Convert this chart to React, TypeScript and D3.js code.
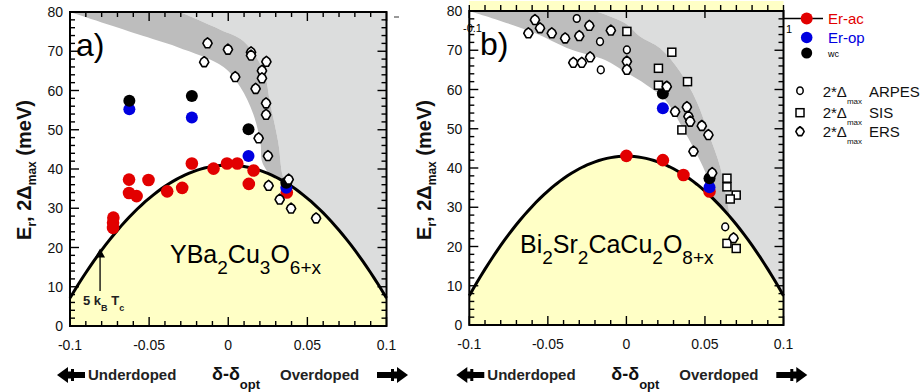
import React from 'react';
import * as d3 from 'd3';

type Pt = [number, number];

const xTickValues = [-0.1, -0.05, 0, 0.05, 0.1];
const xTickLabels = ['-0.1', '-0.05', '0', '0.05', '0.1'];
const yTickValues = [0, 10, 20, 30, 40, 50, 60, 70, 80];

const domeCurvature = 82.6;
const ybcoDomePeak = 41;
const biDomePeak = 43;

// ---- YBa2Cu3O6+x (panel a) ----
const ybcoErAc: Pt[] = [
  [-0.0627, 37.3], [-0.0504, 37.2], [-0.0627, 33.9], [-0.0579, 33.1], [-0.0386, 34.3],
  [-0.0291, 35.2], [-0.023, 41.4], [-0.0093, 40.1], [-0.0008, 41.4], [0.0057, 41.4],
  [0.016, 39.6], [0.013, 36.2], [0.037, 34.0], [-0.0726, 27.6], [-0.0728, 26.3], [-0.0728, 25.0],
];
const ybcoErOp: Pt[] = [[-0.0625, 55.2], [-0.023, 53.1], [0.0128, 43.3], [0.0367, 35.2]];
const ybcoWc: Pt[] = [[-0.0625, 57.4], [-0.023, 58.6], [0.0128, 50.1], [0.0367, 36.5]];
const ybcoErs: Pt[] = [
  [-0.0131, 72.0], [-0.0002, 70.4], [0.0144, 69.7], [0.0144, 68.9], [-0.0152, 67.2],
  [0.0241, 67.3], [0.0213, 65.0], [0.0213, 63.1], [0.0044, 63.4], [0.0173, 60.4],
  [0.0239, 56.7], [0.0239, 53.8], [0.0192, 47.8], [0.0251, 43.3], [0.0255, 35.7],
  [0.0382, 37.3], [0.0325, 32.2], [0.0397, 29.9], [0.0555, 27.4],
];
const ybcoBandLower: Pt[] = [
  [-0.1, 80], [-0.0576, 74.4], [-0.0323, 71.1], [-0.003, 66], [0.0076, 60.9],
  [0.0158, 54], [0.0203, 46.8], [0.0215, 41.7], [0.028, 37.5],
];
const ybcoBandUpper: Pt[] = [
  [-0.0304, 80], [-0.005, 75.5], [0.0095, 72.6], [0.0222, 65], [0.0266, 56.5],
  [0.0316, 46.8], [0.0342, 38.6], [0.037, 35.5],
];
const ybcoTriangle: Pt = [-0.081, 18.2];

// ---- Bi2Sr2CaCu2O8+x (panel b) ----
const biErAc: Pt[] = [[0.0, 43.1], [0.0232, 42.0], [0.0363, 38.2], [0.0529, 34.0]];
const biErOp: Pt[] = [[0.0232, 55.2], [0.0529, 35.1]];
const biWc: Pt[] = [[0.0232, 59.0], [0.0529, 37.4]];
const biArpes: Pt[] = [[-0.0316, 78.1], [-0.0168, 72.2], [0.0003, 70.1], [-0.0163, 65.0], [0.0629, 25.0]];
const biSis: Pt[] = [
  [0.0003, 74.8], [0.0204, 65.4], [0.0289, 69.5], [0.0204, 61.1], [0.0389, 62.0],
  [0.0353, 49.7], [0.064, 37.4], [0.064, 35.2], [0.0699, 33.1], [0.0661, 32.1],
  [0.064, 20.8], [0.0699, 19.5],
];
const biErs: Pt[] = [
  [-0.0582, 77.7], [-0.0624, 74.3], [-0.055, 75.6], [-0.0475, 74.3], [-0.039, 73.0],
  [-0.030, 73.6], [-0.0236, 76.2], [-0.0099, 75.0], [0.0003, 67.1], [0.0003, 65.0],
  [-0.0338, 66.8], [-0.0284, 66.8], [-0.0231, 68.2], [0.0257, 60.7], [0.031, 54.3],
  [0.0385, 55.5], [0.0395, 53.1], [0.0406, 51.8], [0.048, 50.7], [0.0522, 48.4],
  [0.0427, 44.2], [0.0546, 38.7], [0.0682, 22.1],
];
const biBandLower: Pt[] = [
  [-0.1, 80], [-0.0603, 74.7], [-0.0348, 70.1], [-0.0136, 67.5], [-0.0008, 64.5],
  [0.013, 61.1], [0.0247, 57.3], [0.0374, 49], [0.0457, 42.8], [0.0512, 37.8], [0.0525, 33],
];
const biBandUpper: Pt[] = [
  [-0.02, 80], [-0.0008, 76.9], [0.0087, 73.5], [0.0215, 70.5], [0.0342, 64.5],
  [0.0448, 56.9], [0.0522, 48.9], [0.0597, 40.3], [0.064, 31.8], [0.0665, 26.5],
];

const legendItems = ['Er-ac', 'Er-op', 'wc'];
const legendGapItems = ['ARPES', 'SIS', 'ERS'];

const FONT = 'Arial, "Liberation Sans", Helvetica, sans-serif';
const YELLOW = '#ffffc6';
const LIGHT = '#dcdddd';
const DARK = '#bdbdbd';
const RED = '#e20000';
const BLUE = '#0000e0';

function ersPath(cx: number, cy: number, s = 1) {
  return `M${cx},${cy - 5.5 * s} L${cx + 3.2 * s},${cy - 3 * s} L${cx + 4.6 * s},${cy} L${cx + 2 * s},${cy + 4.4 * s} L${cx - 2 * s},${cy + 4.4 * s} L${cx - 4.6 * s},${cy} L${cx - 3.2 * s},${cy - 3 * s} Z`;
}

function arrowPts(tip: number, tail: number, yc: number) {
  const dir = tail > tip ? 1 : -1;
  const h = tip + dir * 11;
  const b = tip + dir * 14;
  return [
    [tip, yc], [h, yc - 8], [h, yc - 3.5], [b, yc - 3.5], [b, yc - 6], [b + dir * 3, yc - 6],
    [b + dir * 3, yc - 3], [tail, yc - 3], [tail, yc + 3], [b + dir * 3, yc + 3], [b + dir * 3, yc + 6],
    [b, yc + 6], [b, yc + 3.5], [h, yc + 3.5], [h, yc + 8],
  ].map((p) => p.join(',')).join(' ');
}

type PanelProps = {
  id: string;
  x0: number; x1: number; yTop: number; yBot: number;
  peak: number;
  lower: Pt[]; upper: Pt[];
  ac: Pt[]; op: Pt[]; wc: Pt[]; arpes: Pt[]; sis: Pt[]; ers: Pt[];
  labelX: number;
  topOutward?: boolean;
};

function Panel(p: PanelProps) {
  const x = d3.scaleLinear().domain([-0.1, 0.1]).range([p.x0, p.x1]);
  const y = d3.scaleLinear().domain([0, 80]).range([p.yBot, p.yTop]);
  const domeXs = d3.range(-0.1, 0.10001, 0.0025);
  const dome: Pt[] = domeXs.map((v) => [v, p.peak * (1 - domeCurvature * v * v)]);
  const line = d3.line<Pt>().x((d) => x(d[0])).y((d) => y(d[1]));
  const smooth = d3.line<Pt>().x((d) => x(d[0])).y((d) => y(d[1])).curve(d3.curveCatmullRom.alpha(0.5));
  const area = d3.area<Pt>().x((d) => x(d[0])).y0(y(0)).y1((d) => y(d[1]));
  const upperPath = smooth(p.upper) || '';
  const lowerPath = smooth(p.lower) || '';
  const upperRevPath = smooth([...p.upper].reverse()) || '';
  const lightD = `${upperPath} L${x(0.1)},${y(0)} L${x(0.1)},${y(80)} Z`;
  const bandD = `${lowerPath} L${upperRevPath.slice(1)} Z`;
  const minorX = d3.range(-0.1, 0.10001, 0.01);
  const minorY = d3.range(0, 80.001, 2);
  const isMajX = (v: number) => Math.abs(Math.round(v / 0.05) * 0.05 - v) < 1e-6;
  const isMajY = (v: number) => Math.round(v) % 10 === 0;
  const yb = y(0), yt = y(80), xl = x(-0.1), xr = x(0.1);
  return (
    <g fontFamily={FONT}>
      <defs>
        <clipPath id={p.id}>
          <rect x={xl} y={yt} width={xr - xl} height={yb - yt} />
        </clipPath>
      </defs>
      <g clipPath={`url(#${p.id})`}>
        <rect x={xl} y={yt} width={xr - xl} height={yb - yt} fill="#fff" />
        <path d={lightD} fill={LIGHT} />
        <path d={bandD} fill={DARK} />
        <path d={area(dome) || ''} fill={YELLOW} />
      </g>
      <path d={line(dome) || ''} fill="none" stroke="#000" strokeWidth={3} />
      {minorX.map((v, i) => {
        const L = isMajX(v) ? 9 : 5;
        return (
          <g key={'tx' + i} stroke="#000" strokeWidth={1.4}>
            <line x1={x(v)} x2={x(v)} y1={yb} y2={yb - L} />
            {p.topOutward ? (
              <line x1={x(v)} x2={x(v)} y1={yt - 6} y2={yt + (isMajX(v) ? 7 : 0)} />
            ) : (
              <line x1={x(v)} x2={x(v)} y1={yt} y2={yt + L} />
            )}
          </g>
        );
      })}
      {minorY.map((v, i) => {
        const L = isMajY(v) ? 9 : 5;
        return (
          <g key={'ty' + i} stroke="#000" strokeWidth={1.4}>
            <line x1={xl} x2={xl + L} y1={y(v)} y2={y(v)} />
            <line x1={xr} x2={xr - L} y1={y(v)} y2={y(v)} />
          </g>
        );
      })}
      <rect x={xl} y={yt} width={xr - xl} height={yb - yt} fill="none" stroke="#000" strokeWidth={2} />
      {xTickValues.map((v, i) => (
        <text key={'xl' + i} x={x(v)} y={yb + 24} textAnchor="middle" fontSize={14} fill="#111">
          {xTickLabels[i]}
        </text>
      ))}
      {yTickValues.map((v) => (
        <text key={'yl' + v} x={xl - 7} y={y(v) + 5} textAnchor="end" fontSize={14} fill="#111">
          {v}
        </text>
      ))}
      {p.ac.map((d, i) => <circle key={'ac' + i} cx={x(d[0])} cy={y(d[1])} r={6.3} fill={RED} />)}
      {p.op.map((d, i) => <circle key={'op' + i} cx={x(d[0])} cy={y(d[1])} r={6} fill={BLUE} />)}
      {p.wc.map((d, i) => <circle key={'wc' + i} cx={x(d[0])} cy={y(d[1])} r={6} fill="#000" />)}
      {p.sis.map((d, i) => (
        <rect key={'sis' + i} x={x(d[0]) - 4} y={y(d[1]) - 4} width={8} height={8} fill="#fff" stroke="#000" strokeWidth={1.5} />
      ))}
      {p.arpes.map((d, i) => (
        <ellipse key={'ar' + i} cx={x(d[0])} cy={y(d[1])} rx={3.4} ry={3.8} fill="#fff" stroke="#000" strokeWidth={1.5} />
      ))}
      {p.ers.map((d, i) => (
        <path key={'ers' + i} d={ersPath(x(d[0]), y(d[1]))} fill="#fff" stroke="#000" strokeWidth={1.6} strokeLinejoin="round" />
      ))}
      <text transform={`translate(${p.labelX},170) rotate(-90)`} textAnchor="middle" fontSize={20} fontWeight="bold" fill="#111">
        E<tspan dy={5} fontSize={12}>r</tspan>
        <tspan dy={-5}>, 2Δ</tspan>
        <tspan dy={5} fontSize={12}>max</tspan>
        <tspan dy={-5}> (meV)</tspan>
      </text>
      <polygon points={arrowPts(p.x0 - 13, p.x0 + 15, 375)} fill="#000" />
      <polygon points={arrowPts(p.x0 + 338, p.x0 + 307, 375)} fill="#000" />
      <text x={p.x0 + 18} y={380} fontSize={15} fontWeight="bold" fill="#222">Underdoped</text>
      <text x={p.x0 + 142} y={380} fontSize={18} fontWeight="bold" fill="#111">
        δ-δ<tspan dy={9} fontSize={13}>opt</tspan>
      </text>
      <text x={p.x0 + 210} y={380} fontSize={15} fontWeight="bold" fill="#222">Overdoped</text>
    </g>
  );
}

export default function App() {
  const xL = d3.scaleLinear().domain([-0.1, 0.1]).range([70, 386.5]);
  const yL = d3.scaleLinear().domain([0, 80]).range([326, 12]);
  return (
    <div style={{ position: 'absolute', left: 0, top: 0 }}>
      <svg width={922} height={392} style={{ display: 'block', background: '#fff' }}>
        <rect x={0} y={0} width={922} height={392} fill="#fff" />
        <rect x={469.3} y={1} width={314.2} height={9} fill={YELLOW} />
        <Panel id="clipA" x0={70} x1={386.5} yTop={12} yBot={326} peak={ybcoDomePeak}
          lower={ybcoBandLower} upper={ybcoBandUpper}
          ac={ybcoErAc} op={ybcoErOp} wc={ybcoWc} arpes={[]} sis={[]} ers={ybcoErs} labelX={31} />
        <Panel id="clipB" x0={469.3} x1={783.5} yTop={11} yBot={325} peak={biDomePeak}
          lower={biBandLower} upper={biBandUpper}
          ac={biErAc} op={biErOp} wc={biWc} arpes={biArpes} sis={biSis} ers={biErs} labelX={431} topOutward />
        <g fontFamily={FONT}>
          <text x={76} y={56} fontSize={32} fill="#000">a)</text>
          <text x={170} y={263} fontSize={25} fill="#000">
            YBa<tspan dy={11} fontSize={19}>2</tspan>
            <tspan dy={-11}>Cu</tspan>
            <tspan dy={11} fontSize={19}>3</tspan>
            <tspan dy={-11}>O</tspan>
            <tspan dy={11} fontSize={19}>6+x</tspan>
          </text>
          <path d={`M${xL(ybcoTriangle[0])},${yL(ybcoTriangle[1]) - 6} l5,9 l-10,0 Z`} fill="#000" />
          <line x1={xL(ybcoTriangle[0])} x2={xL(ybcoTriangle[0])} y1={yL(ybcoTriangle[1])} y2={291} stroke="#000" strokeWidth={1.3} />
          <text x={83} y={305} fontSize={13} fontWeight="bold" fill="#222">
            5 k<tspan dy={6} fontSize={9}>B</tspan>
            <tspan dy={-6}> T</tspan>
            <tspan dy={6} fontSize={9}>c</tspan>
          </text>
          <line x1={394} x2={399} y1={17} y2={17} stroke="#333" strokeWidth={1} />
          <text x={463} y={32} fontSize={11} fill="#000">-0.1</text>
          <text x={480} y={55} fontSize={32} fill="#000">b)</text>
          <text x={520} y={253} fontSize={25} fill="#000">
            Bi<tspan dy={11} fontSize={19}>2</tspan>
            <tspan dy={-11}>Sr</tspan>
            <tspan dy={11} fontSize={19}>2</tspan>
            <tspan dy={-11}>CaCu</tspan>
            <tspan dy={11} fontSize={19}>2</tspan>
            <tspan dy={-11}>O</tspan>
            <tspan dy={11} fontSize={19}>8+x</tspan>
          </text>
          <text x={786} y={33} fontSize={11} fill="#000">1</text>
          <line x1={784} x2={823} y1={18.5} y2={18.5} stroke="#000" strokeWidth={1.5} />
          <circle cx={806.7} cy={18.5} r={6} fill={RED} />
          <text x={828} y={24} fontSize={15} fill={RED}>{legendItems[0]}</text>
          <circle cx={806.7} cy={37.5} r={5.8} fill={BLUE} />
          <text x={828} y={43} fontSize={15} fill={BLUE}>{legendItems[1]}</text>
          <circle cx={806.7} cy={53} r={5.5} fill="#000" />
          <text x={828} y={57} fontSize={9} fill="#000">{legendItems[2]}</text>
          <ellipse cx={800} cy={90.7} rx={3.2} ry={3.8} fill="#fff" stroke="#000" strokeWidth={1.5} />
          <rect x={796} y={108.7} width={8} height={8} fill="#fff" stroke="#000" strokeWidth={1.5} />
          <path d={ersPath(800, 131.7, 0.9)} fill="#fff" stroke="#000" strokeWidth={1.6} strokeLinejoin="round" />
          {legendGapItems.map((name, i) => {
            const by = [97, 118, 137][i];
            return (
              <g key={name}>
                <text x={822.7} y={by} fontSize={15} fill="#111">
                  2*Δ<tspan dy={7} fontSize={8}>max</tspan>
                </text>
                <text x={869} y={by} fontSize={15} fill="#111">{name}</text>
              </g>
            );
          })}
        </g>
      </svg>
    </div>
  );
}
